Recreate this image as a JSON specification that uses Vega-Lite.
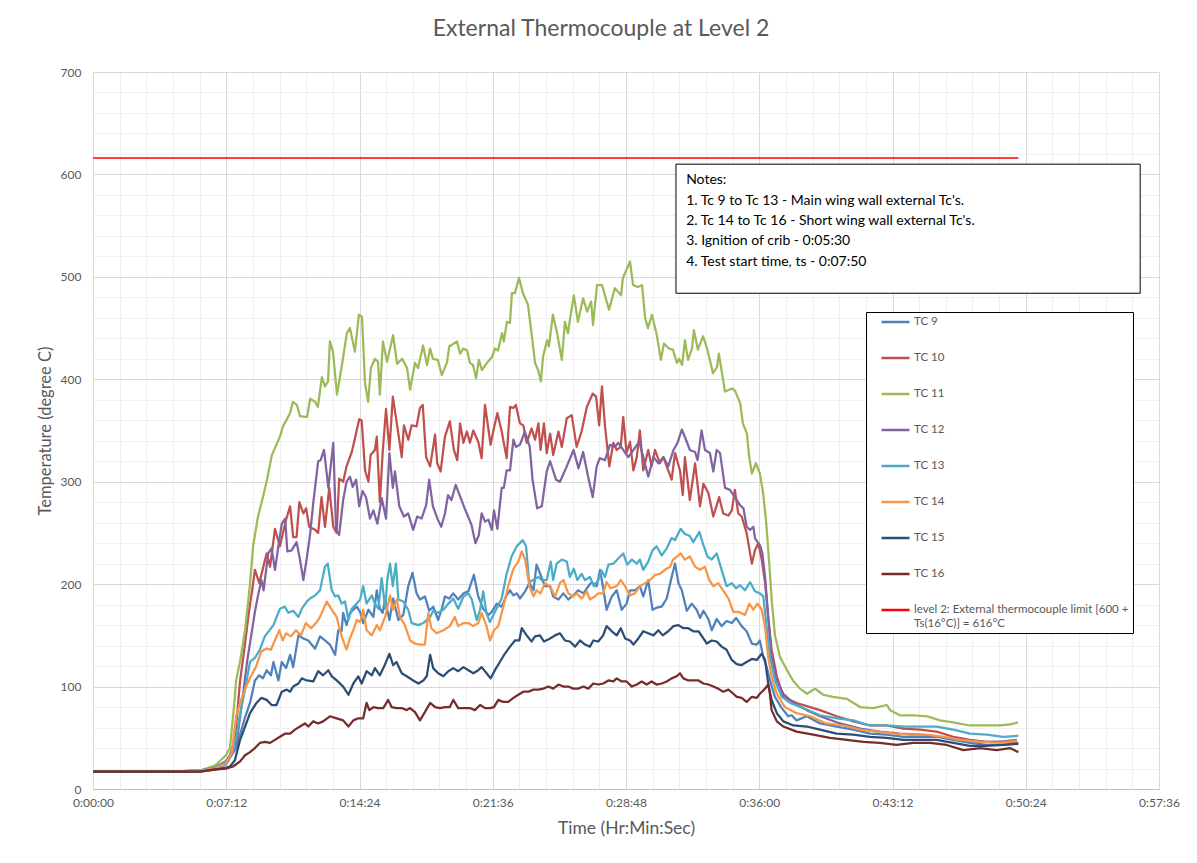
{
  "$schema": "https://vega.github.io/schema/vega-lite/v6.json",
  "width": 1066,
  "height": 717,
  "autosize": "none",
  "padding": {"left": 93, "top": 72, "right": 38, "bottom": 74},
  "background": "white",
  "title": {"text": "External Thermocouple at Level 2", "fontSize": 23, "font": "Lato", "fontWeight": "normal", "color": "#595959", "anchor": "middle", "offset": 25, "dx": -25},
  "config": {"font": "Lato", "view": {"stroke": null}},
  "resolve": {"axis": {"x": "independent", "y": "independent"}},
  "datasets": {
    "limit": [
      {"s": "level 2: External thermocouple limit [600 + Ts(16°C)] = 616°C", "t": 0, "v": 616},
      {"s": "level 2: External thermocouple limit [600 + Ts(16°C)] = 616°C", "t": 3000, "v": 616}
    ],
    "tc": [
{"s":"TC 9","t":0,"v":17},{"s":"TC 9","t":120,"v":17},{"s":"TC 9","t":240,"v":17},{"s":"TC 9","t":347,"v":18},{"s":"TC 9","t":396,"v":20},{"s":"TC 9","t":431,"v":24},{"s":"TC 9","t":464,"v":40},{"s":"TC 9","t":493,"v":70},{"s":"TC 9","t":509,"v":84},{"s":"TC 9","t":525,"v":106},{"s":"TC 9","t":539,"v":111},{"s":"TC 9","t":551,"v":108},{"s":"TC 9","t":563,"v":116},{"s":"TC 9","t":577,"v":111},{"s":"TC 9","t":585,"v":124},{"s":"TC 9","t":601,"v":106},{"s":"TC 9","t":612,"v":124},{"s":"TC 9","t":626,"v":118},{"s":"TC 9","t":639,"v":131},{"s":"TC 9","t":649,"v":119},{"s":"TC 9","t":666,"v":150},{"s":"TC 9","t":682,"v":147},{"s":"TC 9","t":698,"v":145},{"s":"TC 9","t":720,"v":137},{"s":"TC 9","t":736,"v":149},{"s":"TC 9","t":752,"v":145},{"s":"TC 9","t":768,"v":141},{"s":"TC 9","t":785,"v":131},{"s":"TC 9","t":795,"v":155},{"s":"TC 9","t":806,"v":154},{"s":"TC 9","t":811,"v":172},{"s":"TC 9","t":822,"v":160},{"s":"TC 9","t":833,"v":172},{"s":"TC 9","t":844,"v":175},{"s":"TC 9","t":855,"v":178},{"s":"TC 9","t":866,"v":173},{"s":"TC 9","t":876,"v":162},{"s":"TC 9","t":893,"v":175},{"s":"TC 9","t":909,"v":168},{"s":"TC 9","t":920,"v":194},{"s":"TC 9","t":930,"v":176},{"s":"TC 9","t":939,"v":172},{"s":"TC 9","t":947,"v":185},{"s":"TC 9","t":961,"v":165},{"s":"TC 9","t":973,"v":186},{"s":"TC 9","t":990,"v":165},{"s":"TC 9","t":1006,"v":170},{"s":"TC 9","t":1022,"v":198},{"s":"TC 9","t":1036,"v":211},{"s":"TC 9","t":1049,"v":191},{"s":"TC 9","t":1060,"v":185},{"s":"TC 9","t":1076,"v":188},{"s":"TC 9","t":1090,"v":174},{"s":"TC 9","t":1103,"v":178},{"s":"TC 9","t":1119,"v":165},{"s":"TC 9","t":1130,"v":175},{"s":"TC 9","t":1141,"v":188},{"s":"TC 9","t":1155,"v":186},{"s":"TC 9","t":1168,"v":191},{"s":"TC 9","t":1184,"v":185},{"s":"TC 9","t":1201,"v":191},{"s":"TC 9","t":1217,"v":193},{"s":"TC 9","t":1235,"v":209},{"s":"TC 9","t":1249,"v":188},{"s":"TC 9","t":1265,"v":176},{"s":"TC 9","t":1282,"v":170},{"s":"TC 9","t":1293,"v":173},{"s":"TC 9","t":1309,"v":181},{"s":"TC 9","t":1325,"v":178},{"s":"TC 9","t":1341,"v":189},{"s":"TC 9","t":1352,"v":194},{"s":"TC 9","t":1363,"v":189},{"s":"TC 9","t":1374,"v":191},{"s":"TC 9","t":1384,"v":186},{"s":"TC 9","t":1401,"v":193},{"s":"TC 9","t":1415,"v":201},{"s":"TC 9","t":1428,"v":194},{"s":"TC 9","t":1438,"v":219},{"s":"TC 9","t":1455,"v":206},{"s":"TC 9","t":1465,"v":198},{"s":"TC 9","t":1482,"v":198},{"s":"TC 9","t":1492,"v":188},{"s":"TC 9","t":1509,"v":185},{"s":"TC 9","t":1525,"v":191},{"s":"TC 9","t":1541,"v":185},{"s":"TC 9","t":1557,"v":189},{"s":"TC 9","t":1573,"v":194},{"s":"TC 9","t":1590,"v":191},{"s":"TC 9","t":1606,"v":198},{"s":"TC 9","t":1617,"v":202},{"s":"TC 9","t":1633,"v":198},{"s":"TC 9","t":1644,"v":214},{"s":"TC 9","t":1654,"v":196},{"s":"TC 9","t":1665,"v":175},{"s":"TC 9","t":1682,"v":188},{"s":"TC 9","t":1698,"v":194},{"s":"TC 9","t":1714,"v":175},{"s":"TC 9","t":1730,"v":181},{"s":"TC 9","t":1741,"v":194},{"s":"TC 9","t":1757,"v":194},{"s":"TC 9","t":1773,"v":198},{"s":"TC 9","t":1784,"v":188},{"s":"TC 9","t":1800,"v":204},{"s":"TC 9","t":1814,"v":175},{"s":"TC 9","t":1827,"v":177},{"s":"TC 9","t":1844,"v":178},{"s":"TC 9","t":1860,"v":186},{"s":"TC 9","t":1876,"v":207},{"s":"TC 9","t":1887,"v":220},{"s":"TC 9","t":1898,"v":201},{"s":"TC 9","t":1909,"v":194},{"s":"TC 9","t":1925,"v":174},{"s":"TC 9","t":1941,"v":181},{"s":"TC 9","t":1957,"v":175},{"s":"TC 9","t":1968,"v":167},{"s":"TC 9","t":1979,"v":174},{"s":"TC 9","t":1995,"v":166},{"s":"TC 9","t":2006,"v":155},{"s":"TC 9","t":2022,"v":166},{"s":"TC 9","t":2038,"v":159},{"s":"TC 9","t":2054,"v":164},{"s":"TC 9","t":2071,"v":162},{"s":"TC 9","t":2085,"v":167},{"s":"TC 9","t":2103,"v":159},{"s":"TC 9","t":2119,"v":154},{"s":"TC 9","t":2136,"v":142},{"s":"TC 9","t":2152,"v":141},{"s":"TC 9","t":2162,"v":145},{"s":"TC 9","t":2173,"v":129},{"s":"TC 9","t":2184,"v":119},{"s":"TC 9","t":2195,"v":106},{"s":"TC 9","t":2211,"v":90},{"s":"TC 9","t":2233,"v":79},{"s":"TC 9","t":2254,"v":71},{"s":"TC 9","t":2265,"v":72},{"s":"TC 9","t":2281,"v":67},{"s":"TC 9","t":2314,"v":71},{"s":"TC 9","t":2357,"v":64},{"s":"TC 9","t":2411,"v":61},{"s":"TC 9","t":2465,"v":58},{"s":"TC 9","t":2519,"v":54},{"s":"TC 9","t":2573,"v":53},{"s":"TC 9","t":2627,"v":51},{"s":"TC 9","t":2681,"v":51},{"s":"TC 9","t":2735,"v":51},{"s":"TC 9","t":2789,"v":48},{"s":"TC 9","t":2843,"v":45},{"s":"TC 9","t":2897,"v":43},{"s":"TC 9","t":2951,"v":43},{"s":"TC 9","t":3000,"v":45},
{"s":"TC 10","t":0,"v":17},{"s":"TC 10","t":120,"v":17},{"s":"TC 10","t":240,"v":17},{"s":"TC 10","t":347,"v":18},{"s":"TC 10","t":396,"v":21},{"s":"TC 10","t":431,"v":27},{"s":"TC 10","t":444,"v":33},{"s":"TC 10","t":460,"v":48},{"s":"TC 10","t":477,"v":106},{"s":"TC 10","t":493,"v":142},{"s":"TC 10","t":505,"v":172},{"s":"TC 10","t":516,"v":194},{"s":"TC 10","t":525,"v":214},{"s":"TC 10","t":539,"v":201},{"s":"TC 10","t":563,"v":230},{"s":"TC 10","t":574,"v":217},{"s":"TC 10","t":590,"v":254},{"s":"TC 10","t":606,"v":237},{"s":"TC 10","t":626,"v":263},{"s":"TC 10","t":639,"v":276},{"s":"TC 10","t":649,"v":246},{"s":"TC 10","t":660,"v":246},{"s":"TC 10","t":669,"v":280},{"s":"TC 10","t":682,"v":269},{"s":"TC 10","t":691,"v":274},{"s":"TC 10","t":701,"v":256},{"s":"TC 10","t":720,"v":253},{"s":"TC 10","t":730,"v":250},{"s":"TC 10","t":741,"v":285},{"s":"TC 10","t":752,"v":256},{"s":"TC 10","t":766,"v":294},{"s":"TC 10","t":779,"v":256},{"s":"TC 10","t":790,"v":250},{"s":"TC 10","t":798,"v":303},{"s":"TC 10","t":811,"v":300},{"s":"TC 10","t":822,"v":315},{"s":"TC 10","t":839,"v":329},{"s":"TC 10","t":849,"v":342},{"s":"TC 10","t":863,"v":361},{"s":"TC 10","t":871,"v":360},{"s":"TC 10","t":882,"v":311},{"s":"TC 10","t":893,"v":300},{"s":"TC 10","t":900,"v":326},{"s":"TC 10","t":914,"v":331},{"s":"TC 10","t":920,"v":344},{"s":"TC 10","t":930,"v":280},{"s":"TC 10","t":939,"v":328},{"s":"TC 10","t":950,"v":371},{"s":"TC 10","t":961,"v":331},{"s":"TC 10","t":972,"v":383},{"s":"TC 10","t":985,"v":357},{"s":"TC 10","t":1001,"v":324},{"s":"TC 10","t":1008,"v":355},{"s":"TC 10","t":1022,"v":341},{"s":"TC 10","t":1033,"v":355},{"s":"TC 10","t":1049,"v":354},{"s":"TC 10","t":1060,"v":372},{"s":"TC 10","t":1069,"v":375},{"s":"TC 10","t":1080,"v":324},{"s":"TC 10","t":1093,"v":315},{"s":"TC 10","t":1109,"v":346},{"s":"TC 10","t":1116,"v":318},{"s":"TC 10","t":1127,"v":310},{"s":"TC 10","t":1141,"v":344},{"s":"TC 10","t":1157,"v":359},{"s":"TC 10","t":1170,"v":331},{"s":"TC 10","t":1181,"v":321},{"s":"TC 10","t":1190,"v":357},{"s":"TC 10","t":1201,"v":338},{"s":"TC 10","t":1212,"v":349},{"s":"TC 10","t":1222,"v":338},{"s":"TC 10","t":1233,"v":350},{"s":"TC 10","t":1249,"v":339},{"s":"TC 10","t":1260,"v":323},{"s":"TC 10","t":1271,"v":375},{"s":"TC 10","t":1289,"v":336},{"s":"TC 10","t":1298,"v":350},{"s":"TC 10","t":1311,"v":367},{"s":"TC 10","t":1325,"v":349},{"s":"TC 10","t":1341,"v":323},{"s":"TC 10","t":1352,"v":373},{"s":"TC 10","t":1363,"v":372},{"s":"TC 10","t":1371,"v":375},{"s":"TC 10","t":1384,"v":357},{"s":"TC 10","t":1395,"v":355},{"s":"TC 10","t":1406,"v":338},{"s":"TC 10","t":1422,"v":352},{"s":"TC 10","t":1433,"v":341},{"s":"TC 10","t":1444,"v":357},{"s":"TC 10","t":1451,"v":331},{"s":"TC 10","t":1462,"v":357},{"s":"TC 10","t":1471,"v":328},{"s":"TC 10","t":1482,"v":347},{"s":"TC 10","t":1492,"v":326},{"s":"TC 10","t":1509,"v":349},{"s":"TC 10","t":1520,"v":334},{"s":"TC 10","t":1536,"v":362},{"s":"TC 10","t":1552,"v":365},{"s":"TC 10","t":1568,"v":334},{"s":"TC 10","t":1584,"v":349},{"s":"TC 10","t":1601,"v":373},{"s":"TC 10","t":1620,"v":386},{"s":"TC 10","t":1631,"v":383},{"s":"TC 10","t":1641,"v":355},{"s":"TC 10","t":1650,"v":393},{"s":"TC 10","t":1660,"v":354},{"s":"TC 10","t":1674,"v":315},{"s":"TC 10","t":1687,"v":338},{"s":"TC 10","t":1698,"v":331},{"s":"TC 10","t":1711,"v":334},{"s":"TC 10","t":1719,"v":363},{"s":"TC 10","t":1730,"v":328},{"s":"TC 10","t":1741,"v":339},{"s":"TC 10","t":1752,"v":311},{"s":"TC 10","t":1763,"v":324},{"s":"TC 10","t":1773,"v":350},{"s":"TC 10","t":1784,"v":311},{"s":"TC 10","t":1800,"v":331},{"s":"TC 10","t":1811,"v":315},{"s":"TC 10","t":1822,"v":331},{"s":"TC 10","t":1838,"v":318},{"s":"TC 10","t":1849,"v":324},{"s":"TC 10","t":1860,"v":315},{"s":"TC 10","t":1876,"v":302},{"s":"TC 10","t":1887,"v":328},{"s":"TC 10","t":1903,"v":311},{"s":"TC 10","t":1912,"v":287},{"s":"TC 10","t":1919,"v":324},{"s":"TC 10","t":1935,"v":282},{"s":"TC 10","t":1952,"v":318},{"s":"TC 10","t":1968,"v":276},{"s":"TC 10","t":1979,"v":298},{"s":"TC 10","t":1995,"v":289},{"s":"TC 10","t":2011,"v":266},{"s":"TC 10","t":2030,"v":285},{"s":"TC 10","t":2043,"v":269},{"s":"TC 10","t":2060,"v":267},{"s":"TC 10","t":2071,"v":272},{"s":"TC 10","t":2081,"v":292},{"s":"TC 10","t":2092,"v":269},{"s":"TC 10","t":2103,"v":266},{"s":"TC 10","t":2119,"v":250},{"s":"TC 10","t":2136,"v":220},{"s":"TC 10","t":2146,"v":233},{"s":"TC 10","t":2157,"v":240},{"s":"TC 10","t":2168,"v":224},{"s":"TC 10","t":2179,"v":201},{"s":"TC 10","t":2189,"v":168},{"s":"TC 10","t":2200,"v":136},{"s":"TC 10","t":2217,"v":110},{"s":"TC 10","t":2238,"v":90},{"s":"TC 10","t":2281,"v":84},{"s":"TC 10","t":2325,"v":80},{"s":"TC 10","t":2357,"v":77},{"s":"TC 10","t":2411,"v":71},{"s":"TC 10","t":2465,"v":66},{"s":"TC 10","t":2519,"v":62},{"s":"TC 10","t":2573,"v":62},{"s":"TC 10","t":2627,"v":59},{"s":"TC 10","t":2681,"v":58},{"s":"TC 10","t":2735,"v":56},{"s":"TC 10","t":2789,"v":51},{"s":"TC 10","t":2843,"v":48},{"s":"TC 10","t":2897,"v":46},{"s":"TC 10","t":2950,"v":46},{"s":"TC 10","t":2995,"v":46},
{"s":"TC 11","t":0,"v":17},{"s":"TC 11","t":120,"v":17},{"s":"TC 11","t":240,"v":17},{"s":"TC 11","t":347,"v":18},{"s":"TC 11","t":396,"v":23},{"s":"TC 11","t":431,"v":33},{"s":"TC 11","t":444,"v":40},{"s":"TC 11","t":457,"v":80},{"s":"TC 11","t":464,"v":106},{"s":"TC 11","t":477,"v":125},{"s":"TC 11","t":493,"v":155},{"s":"TC 11","t":509,"v":200},{"s":"TC 11","t":519,"v":237},{"s":"TC 11","t":535,"v":266},{"s":"TC 11","t":551,"v":285},{"s":"TC 11","t":564,"v":302},{"s":"TC 11","t":580,"v":326},{"s":"TC 11","t":606,"v":344},{"s":"TC 11","t":616,"v":354},{"s":"TC 11","t":639,"v":367},{"s":"TC 11","t":648,"v":378},{"s":"TC 11","t":661,"v":375},{"s":"TC 11","t":671,"v":364},{"s":"TC 11","t":694,"v":363},{"s":"TC 11","t":704,"v":381},{"s":"TC 11","t":720,"v":378},{"s":"TC 11","t":729,"v":373},{"s":"TC 11","t":742,"v":402},{"s":"TC 11","t":752,"v":393},{"s":"TC 11","t":762,"v":398},{"s":"TC 11","t":768,"v":437},{"s":"TC 11","t":778,"v":427},{"s":"TC 11","t":791,"v":385},{"s":"TC 11","t":807,"v":414},{"s":"TC 11","t":823,"v":445},{"s":"TC 11","t":833,"v":450},{"s":"TC 11","t":849,"v":427},{"s":"TC 11","t":862,"v":463},{"s":"TC 11","t":872,"v":461},{"s":"TC 11","t":882,"v":396},{"s":"TC 11","t":892,"v":378},{"s":"TC 11","t":901,"v":411},{"s":"TC 11","t":914,"v":420},{"s":"TC 11","t":924,"v":417},{"s":"TC 11","t":930,"v":385},{"s":"TC 11","t":940,"v":437},{"s":"TC 11","t":953,"v":417},{"s":"TC 11","t":973,"v":443},{"s":"TC 11","t":986,"v":415},{"s":"TC 11","t":1002,"v":420},{"s":"TC 11","t":1018,"v":411},{"s":"TC 11","t":1028,"v":390},{"s":"TC 11","t":1044,"v":416},{"s":"TC 11","t":1054,"v":411},{"s":"TC 11","t":1070,"v":433},{"s":"TC 11","t":1083,"v":414},{"s":"TC 11","t":1093,"v":430},{"s":"TC 11","t":1102,"v":420},{"s":"TC 11","t":1118,"v":419},{"s":"TC 11","t":1131,"v":404},{"s":"TC 11","t":1148,"v":417},{"s":"TC 11","t":1155,"v":432},{"s":"TC 11","t":1180,"v":437},{"s":"TC 11","t":1190,"v":425},{"s":"TC 11","t":1200,"v":430},{"s":"TC 11","t":1213,"v":428},{"s":"TC 11","t":1222,"v":416},{"s":"TC 11","t":1232,"v":414},{"s":"TC 11","t":1242,"v":401},{"s":"TC 11","t":1251,"v":419},{"s":"TC 11","t":1261,"v":409},{"s":"TC 11","t":1277,"v":416},{"s":"TC 11","t":1294,"v":422},{"s":"TC 11","t":1303,"v":430},{"s":"TC 11","t":1313,"v":428},{"s":"TC 11","t":1326,"v":445},{"s":"TC 11","t":1332,"v":437},{"s":"TC 11","t":1342,"v":456},{"s":"TC 11","t":1352,"v":455},{"s":"TC 11","t":1358,"v":484},{"s":"TC 11","t":1368,"v":484},{"s":"TC 11","t":1381,"v":499},{"s":"TC 11","t":1394,"v":484},{"s":"TC 11","t":1410,"v":473},{"s":"TC 11","t":1423,"v":442},{"s":"TC 11","t":1433,"v":416},{"s":"TC 11","t":1443,"v":409},{"s":"TC 11","t":1452,"v":398},{"s":"TC 11","t":1459,"v":422},{"s":"TC 11","t":1472,"v":438},{"s":"TC 11","t":1478,"v":432},{"s":"TC 11","t":1491,"v":463},{"s":"TC 11","t":1504,"v":446},{"s":"TC 11","t":1520,"v":419},{"s":"TC 11","t":1530,"v":456},{"s":"TC 11","t":1540,"v":445},{"s":"TC 11","t":1546,"v":458},{"s":"TC 11","t":1559,"v":482},{"s":"TC 11","t":1572,"v":456},{"s":"TC 11","t":1589,"v":479},{"s":"TC 11","t":1602,"v":466},{"s":"TC 11","t":1615,"v":476},{"s":"TC 11","t":1621,"v":453},{"s":"TC 11","t":1634,"v":492},{"s":"TC 11","t":1650,"v":492},{"s":"TC 11","t":1673,"v":468},{"s":"TC 11","t":1692,"v":489},{"s":"TC 11","t":1712,"v":482},{"s":"TC 11","t":1718,"v":499},{"s":"TC 11","t":1741,"v":515},{"s":"TC 11","t":1751,"v":492},{"s":"TC 11","t":1767,"v":490},{"s":"TC 11","t":1780,"v":492},{"s":"TC 11","t":1790,"v":460},{"s":"TC 11","t":1799,"v":450},{"s":"TC 11","t":1812,"v":463},{"s":"TC 11","t":1828,"v":443},{"s":"TC 11","t":1841,"v":419},{"s":"TC 11","t":1851,"v":435},{"s":"TC 11","t":1867,"v":430},{"s":"TC 11","t":1880,"v":429},{"s":"TC 11","t":1893,"v":416},{"s":"TC 11","t":1900,"v":420},{"s":"TC 11","t":1910,"v":414},{"s":"TC 11","t":1919,"v":438},{"s":"TC 11","t":1929,"v":419},{"s":"TC 11","t":1942,"v":430},{"s":"TC 11","t":1948,"v":448},{"s":"TC 11","t":1961,"v":429},{"s":"TC 11","t":1978,"v":442},{"s":"TC 11","t":1991,"v":430},{"s":"TC 11","t":2010,"v":406},{"s":"TC 11","t":2023,"v":412},{"s":"TC 11","t":2029,"v":425},{"s":"TC 11","t":2049,"v":388},{"s":"TC 11","t":2072,"v":391},{"s":"TC 11","t":2081,"v":389},{"s":"TC 11","t":2098,"v":377},{"s":"TC 11","t":2107,"v":357},{"s":"TC 11","t":2120,"v":347},{"s":"TC 11","t":2127,"v":325},{"s":"TC 11","t":2136,"v":308},{"s":"TC 11","t":2149,"v":318},{"s":"TC 11","t":2162,"v":308},{"s":"TC 11","t":2172,"v":290},{"s":"TC 11","t":2182,"v":262},{"s":"TC 11","t":2192,"v":222},{"s":"TC 11","t":2201,"v":182},{"s":"TC 11","t":2211,"v":150},{"s":"TC 11","t":2227,"v":129},{"s":"TC 11","t":2250,"v":116},{"s":"TC 11","t":2269,"v":106},{"s":"TC 11","t":2292,"v":98},{"s":"TC 11","t":2315,"v":93},{"s":"TC 11","t":2341,"v":98},{"s":"TC 11","t":2367,"v":92},{"s":"TC 11","t":2399,"v":90},{"s":"TC 11","t":2444,"v":88},{"s":"TC 11","t":2487,"v":80},{"s":"TC 11","t":2529,"v":79},{"s":"TC 11","t":2574,"v":82},{"s":"TC 11","t":2584,"v":77},{"s":"TC 11","t":2616,"v":72},{"s":"TC 11","t":2658,"v":72},{"s":"TC 11","t":2704,"v":71},{"s":"TC 11","t":2746,"v":67},{"s":"TC 11","t":2788,"v":65},{"s":"TC 11","t":2843,"v":62},{"s":"TC 11","t":2898,"v":62},{"s":"TC 11","t":2940,"v":62},{"s":"TC 11","t":2973,"v":63},{"s":"TC 11","t":2999,"v":65},
{"s":"TC 12","t":0,"v":17},{"s":"TC 12","t":120,"v":17},{"s":"TC 12","t":240,"v":17},{"s":"TC 12","t":347,"v":18},{"s":"TC 12","t":396,"v":21},{"s":"TC 12","t":431,"v":27},{"s":"TC 12","t":444,"v":32},{"s":"TC 12","t":467,"v":48},{"s":"TC 12","t":483,"v":84},{"s":"TC 12","t":499,"v":123},{"s":"TC 12","t":514,"v":152},{"s":"TC 12","t":525,"v":173},{"s":"TC 12","t":535,"v":189},{"s":"TC 12","t":546,"v":204},{"s":"TC 12","t":553,"v":194},{"s":"TC 12","t":568,"v":230},{"s":"TC 12","t":579,"v":235},{"s":"TC 12","t":590,"v":214},{"s":"TC 12","t":601,"v":237},{"s":"TC 12","t":612,"v":259},{"s":"TC 12","t":623,"v":264},{"s":"TC 12","t":630,"v":232},{"s":"TC 12","t":644,"v":233},{"s":"TC 12","t":660,"v":241},{"s":"TC 12","t":671,"v":224},{"s":"TC 12","t":682,"v":204},{"s":"TC 12","t":693,"v":225},{"s":"TC 12","t":704,"v":249},{"s":"TC 12","t":714,"v":279},{"s":"TC 12","t":730,"v":320},{"s":"TC 12","t":738,"v":321},{"s":"TC 12","t":749,"v":331},{"s":"TC 12","t":763,"v":294},{"s":"TC 12","t":779,"v":338},{"s":"TC 12","t":788,"v":253},{"s":"TC 12","t":798,"v":248},{"s":"TC 12","t":811,"v":282},{"s":"TC 12","t":822,"v":300},{"s":"TC 12","t":833,"v":305},{"s":"TC 12","t":842,"v":295},{"s":"TC 12","t":853,"v":302},{"s":"TC 12","t":863,"v":276},{"s":"TC 12","t":874,"v":291},{"s":"TC 12","t":885,"v":285},{"s":"TC 12","t":898,"v":264},{"s":"TC 12","t":909,"v":272},{"s":"TC 12","t":922,"v":259},{"s":"TC 12","t":936,"v":284},{"s":"TC 12","t":950,"v":264},{"s":"TC 12","t":961,"v":328},{"s":"TC 12","t":972,"v":294},{"s":"TC 12","t":979,"v":310},{"s":"TC 12","t":993,"v":276},{"s":"TC 12","t":1008,"v":266},{"s":"TC 12","t":1022,"v":269},{"s":"TC 12","t":1038,"v":253},{"s":"TC 12","t":1051,"v":266},{"s":"TC 12","t":1065,"v":264},{"s":"TC 12","t":1080,"v":277},{"s":"TC 12","t":1090,"v":302},{"s":"TC 12","t":1102,"v":276},{"s":"TC 12","t":1118,"v":263},{"s":"TC 12","t":1129,"v":256},{"s":"TC 12","t":1141,"v":269},{"s":"TC 12","t":1151,"v":287},{"s":"TC 12","t":1162,"v":282},{"s":"TC 12","t":1176,"v":297},{"s":"TC 12","t":1191,"v":285},{"s":"TC 12","t":1205,"v":274},{"s":"TC 12","t":1220,"v":263},{"s":"TC 12","t":1227,"v":258},{"s":"TC 12","t":1240,"v":240},{"s":"TC 12","t":1251,"v":248},{"s":"TC 12","t":1260,"v":269},{"s":"TC 12","t":1271,"v":261},{"s":"TC 12","t":1282,"v":263},{"s":"TC 12","t":1293,"v":253},{"s":"TC 12","t":1300,"v":272},{"s":"TC 12","t":1311,"v":254},{"s":"TC 12","t":1325,"v":294},{"s":"TC 12","t":1332,"v":294},{"s":"TC 12","t":1341,"v":311},{"s":"TC 12","t":1352,"v":311},{"s":"TC 12","t":1363,"v":341},{"s":"TC 12","t":1371,"v":334},{"s":"TC 12","t":1384,"v":336},{"s":"TC 12","t":1400,"v":349},{"s":"TC 12","t":1416,"v":334},{"s":"TC 12","t":1425,"v":302},{"s":"TC 12","t":1440,"v":274},{"s":"TC 12","t":1455,"v":276},{"s":"TC 12","t":1471,"v":310},{"s":"TC 12","t":1482,"v":320},{"s":"TC 12","t":1501,"v":302},{"s":"TC 12","t":1514,"v":300},{"s":"TC 12","t":1536,"v":315},{"s":"TC 12","t":1558,"v":331},{"s":"TC 12","t":1574,"v":313},{"s":"TC 12","t":1589,"v":329},{"s":"TC 12","t":1605,"v":305},{"s":"TC 12","t":1620,"v":285},{"s":"TC 12","t":1633,"v":315},{"s":"TC 12","t":1643,"v":323},{"s":"TC 12","t":1660,"v":321},{"s":"TC 12","t":1676,"v":336},{"s":"TC 12","t":1692,"v":334},{"s":"TC 12","t":1703,"v":338},{"s":"TC 12","t":1719,"v":331},{"s":"TC 12","t":1735,"v":324},{"s":"TC 12","t":1752,"v":331},{"s":"TC 12","t":1771,"v":339},{"s":"TC 12","t":1784,"v":324},{"s":"TC 12","t":1800,"v":305},{"s":"TC 12","t":1817,"v":324},{"s":"TC 12","t":1833,"v":318},{"s":"TC 12","t":1849,"v":324},{"s":"TC 12","t":1865,"v":315},{"s":"TC 12","t":1882,"v":331},{"s":"TC 12","t":1895,"v":338},{"s":"TC 12","t":1909,"v":351},{"s":"TC 12","t":1925,"v":339},{"s":"TC 12","t":1935,"v":331},{"s":"TC 12","t":1952,"v":329},{"s":"TC 12","t":1960,"v":321},{"s":"TC 12","t":1973,"v":350},{"s":"TC 12","t":1984,"v":331},{"s":"TC 12","t":2000,"v":328},{"s":"TC 12","t":2011,"v":310},{"s":"TC 12","t":2022,"v":331},{"s":"TC 12","t":2033,"v":328},{"s":"TC 12","t":2049,"v":294},{"s":"TC 12","t":2065,"v":292},{"s":"TC 12","t":2081,"v":285},{"s":"TC 12","t":2098,"v":277},{"s":"TC 12","t":2109,"v":274},{"s":"TC 12","t":2119,"v":256},{"s":"TC 12","t":2130,"v":253},{"s":"TC 12","t":2141,"v":256},{"s":"TC 12","t":2146,"v":245},{"s":"TC 12","t":2157,"v":240},{"s":"TC 12","t":2164,"v":237},{"s":"TC 12","t":2170,"v":230},{"s":"TC 12","t":2179,"v":207},{"s":"TC 12","t":2189,"v":168},{"s":"TC 12","t":2200,"v":129},{"s":"TC 12","t":2217,"v":106},{"s":"TC 12","t":2238,"v":93},{"s":"TC 12","t":2271,"v":84},{"s":"TC 12","t":2314,"v":77},{"s":"TC 12","t":2357,"v":71},{"s":"TC 12","t":2422,"v":64},{"s":"TC 12","t":2487,"v":59},{"s":"TC 12","t":2551,"v":56},{"s":"TC 12","t":2616,"v":54},{"s":"TC 12","t":2681,"v":53},{"s":"TC 12","t":2746,"v":51},{"s":"TC 12","t":2811,"v":48},{"s":"TC 12","t":2876,"v":46},{"s":"TC 12","t":2940,"v":46},{"s":"TC 12","t":2995,"v":48},
{"s":"TC 13","t":0,"v":17},{"s":"TC 13","t":120,"v":17},{"s":"TC 13","t":240,"v":17},{"s":"TC 13","t":347,"v":18},{"s":"TC 13","t":396,"v":21},{"s":"TC 13","t":431,"v":26},{"s":"TC 13","t":450,"v":35},{"s":"TC 13","t":464,"v":50},{"s":"TC 13","t":477,"v":74},{"s":"TC 13","t":493,"v":97},{"s":"TC 13","t":509,"v":124},{"s":"TC 13","t":525,"v":128},{"s":"TC 13","t":541,"v":136},{"s":"TC 13","t":557,"v":149},{"s":"TC 13","t":585,"v":160},{"s":"TC 13","t":606,"v":176},{"s":"TC 13","t":622,"v":178},{"s":"TC 13","t":633,"v":172},{"s":"TC 13","t":649,"v":174},{"s":"TC 13","t":666,"v":168},{"s":"TC 13","t":677,"v":176},{"s":"TC 13","t":693,"v":183},{"s":"TC 13","t":704,"v":186},{"s":"TC 13","t":720,"v":189},{"s":"TC 13","t":736,"v":194},{"s":"TC 13","t":752,"v":217},{"s":"TC 13","t":761,"v":220},{"s":"TC 13","t":774,"v":194},{"s":"TC 13","t":785,"v":188},{"s":"TC 13","t":795,"v":189},{"s":"TC 13","t":806,"v":181},{"s":"TC 13","t":817,"v":183},{"s":"TC 13","t":828,"v":165},{"s":"TC 13","t":839,"v":176},{"s":"TC 13","t":855,"v":181},{"s":"TC 13","t":866,"v":185},{"s":"TC 13","t":876,"v":198},{"s":"TC 13","t":887,"v":181},{"s":"TC 13","t":904,"v":189},{"s":"TC 13","t":914,"v":181},{"s":"TC 13","t":925,"v":176},{"s":"TC 13","t":936,"v":206},{"s":"TC 13","t":947,"v":176},{"s":"TC 13","t":954,"v":204},{"s":"TC 13","t":963,"v":220},{"s":"TC 13","t":972,"v":198},{"s":"TC 13","t":982,"v":220},{"s":"TC 13","t":990,"v":185},{"s":"TC 13","t":1006,"v":183},{"s":"TC 13","t":1022,"v":175},{"s":"TC 13","t":1033,"v":162},{"s":"TC 13","t":1055,"v":160},{"s":"TC 13","t":1071,"v":162},{"s":"TC 13","t":1093,"v":168},{"s":"TC 13","t":1103,"v":174},{"s":"TC 13","t":1119,"v":172},{"s":"TC 13","t":1136,"v":175},{"s":"TC 13","t":1152,"v":181},{"s":"TC 13","t":1168,"v":186},{"s":"TC 13","t":1184,"v":176},{"s":"TC 13","t":1201,"v":188},{"s":"TC 13","t":1217,"v":191},{"s":"TC 13","t":1228,"v":185},{"s":"TC 13","t":1244,"v":165},{"s":"TC 13","t":1255,"v":175},{"s":"TC 13","t":1265,"v":193},{"s":"TC 13","t":1276,"v":171},{"s":"TC 13","t":1287,"v":163},{"s":"TC 13","t":1303,"v":173},{"s":"TC 13","t":1325,"v":186},{"s":"TC 13","t":1341,"v":210},{"s":"TC 13","t":1357,"v":227},{"s":"TC 13","t":1374,"v":237},{"s":"TC 13","t":1393,"v":243},{"s":"TC 13","t":1404,"v":237},{"s":"TC 13","t":1414,"v":202},{"s":"TC 13","t":1427,"v":204},{"s":"TC 13","t":1444,"v":207},{"s":"TC 13","t":1455,"v":204},{"s":"TC 13","t":1471,"v":204},{"s":"TC 13","t":1484,"v":222},{"s":"TC 13","t":1492,"v":204},{"s":"TC 13","t":1503,"v":220},{"s":"TC 13","t":1520,"v":224},{"s":"TC 13","t":1536,"v":222},{"s":"TC 13","t":1546,"v":207},{"s":"TC 13","t":1559,"v":215},{"s":"TC 13","t":1570,"v":204},{"s":"TC 13","t":1584,"v":210},{"s":"TC 13","t":1595,"v":204},{"s":"TC 13","t":1611,"v":207},{"s":"TC 13","t":1624,"v":198},{"s":"TC 13","t":1638,"v":204},{"s":"TC 13","t":1649,"v":213},{"s":"TC 13","t":1660,"v":207},{"s":"TC 13","t":1671,"v":219},{"s":"TC 13","t":1687,"v":220},{"s":"TC 13","t":1703,"v":225},{"s":"TC 13","t":1719,"v":230},{"s":"TC 13","t":1732,"v":219},{"s":"TC 13","t":1747,"v":224},{"s":"TC 13","t":1763,"v":220},{"s":"TC 13","t":1773,"v":224},{"s":"TC 13","t":1784,"v":214},{"s":"TC 13","t":1800,"v":222},{"s":"TC 13","t":1814,"v":233},{"s":"TC 13","t":1827,"v":237},{"s":"TC 13","t":1844,"v":228},{"s":"TC 13","t":1860,"v":235},{"s":"TC 13","t":1876,"v":245},{"s":"TC 13","t":1887,"v":243},{"s":"TC 13","t":1905,"v":254},{"s":"TC 13","t":1919,"v":249},{"s":"TC 13","t":1935,"v":247},{"s":"TC 13","t":1946,"v":241},{"s":"TC 13","t":1966,"v":251},{"s":"TC 13","t":1979,"v":238},{"s":"TC 13","t":1992,"v":227},{"s":"TC 13","t":2006,"v":224},{"s":"TC 13","t":2022,"v":230},{"s":"TC 13","t":2038,"v":214},{"s":"TC 13","t":2054,"v":198},{"s":"TC 13","t":2071,"v":201},{"s":"TC 13","t":2085,"v":196},{"s":"TC 13","t":2098,"v":199},{"s":"TC 13","t":2114,"v":194},{"s":"TC 13","t":2130,"v":202},{"s":"TC 13","t":2146,"v":193},{"s":"TC 13","t":2162,"v":191},{"s":"TC 13","t":2173,"v":188},{"s":"TC 13","t":2184,"v":158},{"s":"TC 13","t":2195,"v":129},{"s":"TC 13","t":2211,"v":106},{"s":"TC 13","t":2233,"v":90},{"s":"TC 13","t":2260,"v":84},{"s":"TC 13","t":2303,"v":79},{"s":"TC 13","t":2357,"v":72},{"s":"TC 13","t":2411,"v":69},{"s":"TC 13","t":2465,"v":67},{"s":"TC 13","t":2519,"v":62},{"s":"TC 13","t":2573,"v":62},{"s":"TC 13","t":2627,"v":61},{"s":"TC 13","t":2681,"v":61},{"s":"TC 13","t":2735,"v":61},{"s":"TC 13","t":2789,"v":58},{"s":"TC 13","t":2843,"v":54},{"s":"TC 13","t":2897,"v":53},{"s":"TC 13","t":2951,"v":51},{"s":"TC 13","t":3000,"v":52},
{"s":"TC 14","t":0,"v":17},{"s":"TC 14","t":120,"v":17},{"s":"TC 14","t":240,"v":17},{"s":"TC 14","t":347,"v":18},{"s":"TC 14","t":396,"v":20},{"s":"TC 14","t":431,"v":25},{"s":"TC 14","t":450,"v":35},{"s":"TC 14","t":464,"v":71},{"s":"TC 14","t":480,"v":87},{"s":"TC 14","t":496,"v":100},{"s":"TC 14","t":512,"v":110},{"s":"TC 14","t":528,"v":119},{"s":"TC 14","t":545,"v":134},{"s":"TC 14","t":561,"v":137},{"s":"TC 14","t":577,"v":136},{"s":"TC 14","t":588,"v":144},{"s":"TC 14","t":604,"v":155},{"s":"TC 14","t":615,"v":145},{"s":"TC 14","t":626,"v":152},{"s":"TC 14","t":642,"v":149},{"s":"TC 14","t":658,"v":155},{"s":"TC 14","t":674,"v":150},{"s":"TC 14","t":690,"v":162},{"s":"TC 14","t":707,"v":157},{"s":"TC 14","t":723,"v":162},{"s":"TC 14","t":736,"v":168},{"s":"TC 14","t":758,"v":183},{"s":"TC 14","t":774,"v":175},{"s":"TC 14","t":790,"v":168},{"s":"TC 14","t":806,"v":149},{"s":"TC 14","t":822,"v":136},{"s":"TC 14","t":833,"v":147},{"s":"TC 14","t":844,"v":155},{"s":"TC 14","t":855,"v":165},{"s":"TC 14","t":866,"v":163},{"s":"TC 14","t":876,"v":175},{"s":"TC 14","t":887,"v":155},{"s":"TC 14","t":904,"v":150},{"s":"TC 14","t":920,"v":160},{"s":"TC 14","t":930,"v":155},{"s":"TC 14","t":947,"v":168},{"s":"TC 14","t":963,"v":189},{"s":"TC 14","t":972,"v":175},{"s":"TC 14","t":985,"v":185},{"s":"TC 14","t":995,"v":168},{"s":"TC 14","t":1011,"v":160},{"s":"TC 14","t":1028,"v":145},{"s":"TC 14","t":1044,"v":142},{"s":"TC 14","t":1060,"v":141},{"s":"TC 14","t":1076,"v":141},{"s":"TC 14","t":1087,"v":172},{"s":"TC 14","t":1097,"v":157},{"s":"TC 14","t":1114,"v":152},{"s":"TC 14","t":1136,"v":155},{"s":"TC 14","t":1157,"v":159},{"s":"TC 14","t":1173,"v":168},{"s":"TC 14","t":1184,"v":159},{"s":"TC 14","t":1201,"v":162},{"s":"TC 14","t":1217,"v":162},{"s":"TC 14","t":1233,"v":159},{"s":"TC 14","t":1249,"v":162},{"s":"TC 14","t":1260,"v":172},{"s":"TC 14","t":1276,"v":159},{"s":"TC 14","t":1287,"v":145},{"s":"TC 14","t":1300,"v":155},{"s":"TC 14","t":1314,"v":159},{"s":"TC 14","t":1330,"v":178},{"s":"TC 14","t":1346,"v":198},{"s":"TC 14","t":1363,"v":215},{"s":"TC 14","t":1379,"v":222},{"s":"TC 14","t":1390,"v":232},{"s":"TC 14","t":1401,"v":224},{"s":"TC 14","t":1415,"v":198},{"s":"TC 14","t":1428,"v":188},{"s":"TC 14","t":1438,"v":194},{"s":"TC 14","t":1451,"v":191},{"s":"TC 14","t":1465,"v":201},{"s":"TC 14","t":1482,"v":198},{"s":"TC 14","t":1498,"v":188},{"s":"TC 14","t":1514,"v":201},{"s":"TC 14","t":1525,"v":204},{"s":"TC 14","t":1541,"v":191},{"s":"TC 14","t":1557,"v":188},{"s":"TC 14","t":1568,"v":191},{"s":"TC 14","t":1584,"v":186},{"s":"TC 14","t":1601,"v":193},{"s":"TC 14","t":1611,"v":185},{"s":"TC 14","t":1627,"v":188},{"s":"TC 14","t":1638,"v":191},{"s":"TC 14","t":1654,"v":191},{"s":"TC 14","t":1665,"v":202},{"s":"TC 14","t":1678,"v":196},{"s":"TC 14","t":1698,"v":198},{"s":"TC 14","t":1711,"v":204},{"s":"TC 14","t":1725,"v":198},{"s":"TC 14","t":1741,"v":189},{"s":"TC 14","t":1757,"v":191},{"s":"TC 14","t":1773,"v":198},{"s":"TC 14","t":1790,"v":201},{"s":"TC 14","t":1806,"v":204},{"s":"TC 14","t":1822,"v":209},{"s":"TC 14","t":1838,"v":210},{"s":"TC 14","t":1854,"v":214},{"s":"TC 14","t":1871,"v":217},{"s":"TC 14","t":1881,"v":224},{"s":"TC 14","t":1894,"v":227},{"s":"TC 14","t":1905,"v":230},{"s":"TC 14","t":1919,"v":224},{"s":"TC 14","t":1935,"v":227},{"s":"TC 14","t":1952,"v":217},{"s":"TC 14","t":1968,"v":214},{"s":"TC 14","t":1984,"v":217},{"s":"TC 14","t":1998,"v":204},{"s":"TC 14","t":2011,"v":198},{"s":"TC 14","t":2027,"v":201},{"s":"TC 14","t":2043,"v":194},{"s":"TC 14","t":2060,"v":186},{"s":"TC 14","t":2076,"v":173},{"s":"TC 14","t":2092,"v":173},{"s":"TC 14","t":2114,"v":170},{"s":"TC 14","t":2128,"v":181},{"s":"TC 14","t":2141,"v":175},{"s":"TC 14","t":2154,"v":181},{"s":"TC 14","t":2168,"v":175},{"s":"TC 14","t":2179,"v":158},{"s":"TC 14","t":2189,"v":129},{"s":"TC 14","t":2200,"v":110},{"s":"TC 14","t":2217,"v":93},{"s":"TC 14","t":2243,"v":80},{"s":"TC 14","t":2281,"v":74},{"s":"TC 14","t":2325,"v":71},{"s":"TC 14","t":2378,"v":64},{"s":"TC 14","t":2433,"v":62},{"s":"TC 14","t":2487,"v":58},{"s":"TC 14","t":2541,"v":56},{"s":"TC 14","t":2595,"v":54},{"s":"TC 14","t":2649,"v":53},{"s":"TC 14","t":2703,"v":53},{"s":"TC 14","t":2757,"v":51},{"s":"TC 14","t":2811,"v":48},{"s":"TC 14","t":2876,"v":46},{"s":"TC 14","t":2940,"v":45},{"s":"TC 14","t":2995,"v":47},
{"s":"TC 15","t":0,"v":17},{"s":"TC 15","t":120,"v":17},{"s":"TC 15","t":240,"v":17},{"s":"TC 15","t":347,"v":17},{"s":"TC 15","t":396,"v":19},{"s":"TC 15","t":431,"v":21},{"s":"TC 15","t":444,"v":22},{"s":"TC 15","t":460,"v":28},{"s":"TC 15","t":477,"v":48},{"s":"TC 15","t":493,"v":61},{"s":"TC 15","t":509,"v":74},{"s":"TC 15","t":530,"v":84},{"s":"TC 15","t":546,"v":89},{"s":"TC 15","t":563,"v":87},{"s":"TC 15","t":579,"v":82},{"s":"TC 15","t":595,"v":82},{"s":"TC 15","t":612,"v":95},{"s":"TC 15","t":628,"v":97},{"s":"TC 15","t":639,"v":95},{"s":"TC 15","t":649,"v":100},{"s":"TC 15","t":666,"v":103},{"s":"TC 15","t":677,"v":108},{"s":"TC 15","t":693,"v":106},{"s":"TC 15","t":714,"v":105},{"s":"TC 15","t":730,"v":115},{"s":"TC 15","t":746,"v":111},{"s":"TC 15","t":763,"v":116},{"s":"TC 15","t":774,"v":110},{"s":"TC 15","t":790,"v":106},{"s":"TC 15","t":811,"v":100},{"s":"TC 15","t":828,"v":92},{"s":"TC 15","t":844,"v":103},{"s":"TC 15","t":860,"v":110},{"s":"TC 15","t":871,"v":103},{"s":"TC 15","t":887,"v":115},{"s":"TC 15","t":904,"v":111},{"s":"TC 15","t":914,"v":118},{"s":"TC 15","t":930,"v":111},{"s":"TC 15","t":943,"v":119},{"s":"TC 15","t":961,"v":132},{"s":"TC 15","t":973,"v":121},{"s":"TC 15","t":984,"v":124},{"s":"TC 15","t":1001,"v":113},{"s":"TC 15","t":1017,"v":110},{"s":"TC 15","t":1038,"v":106},{"s":"TC 15","t":1055,"v":103},{"s":"TC 15","t":1071,"v":106},{"s":"TC 15","t":1082,"v":110},{"s":"TC 15","t":1093,"v":131},{"s":"TC 15","t":1103,"v":118},{"s":"TC 15","t":1119,"v":113},{"s":"TC 15","t":1136,"v":110},{"s":"TC 15","t":1152,"v":115},{"s":"TC 15","t":1168,"v":118},{"s":"TC 15","t":1184,"v":115},{"s":"TC 15","t":1201,"v":119},{"s":"TC 15","t":1217,"v":116},{"s":"TC 15","t":1233,"v":113},{"s":"TC 15","t":1249,"v":116},{"s":"TC 15","t":1260,"v":119},{"s":"TC 15","t":1276,"v":113},{"s":"TC 15","t":1289,"v":108},{"s":"TC 15","t":1303,"v":116},{"s":"TC 15","t":1319,"v":124},{"s":"TC 15","t":1335,"v":132},{"s":"TC 15","t":1352,"v":139},{"s":"TC 15","t":1368,"v":145},{"s":"TC 15","t":1382,"v":145},{"s":"TC 15","t":1390,"v":157},{"s":"TC 15","t":1406,"v":150},{"s":"TC 15","t":1422,"v":144},{"s":"TC 15","t":1433,"v":149},{"s":"TC 15","t":1449,"v":150},{"s":"TC 15","t":1462,"v":144},{"s":"TC 15","t":1482,"v":147},{"s":"TC 15","t":1498,"v":150},{"s":"TC 15","t":1514,"v":152},{"s":"TC 15","t":1530,"v":145},{"s":"TC 15","t":1546,"v":144},{"s":"TC 15","t":1563,"v":139},{"s":"TC 15","t":1579,"v":145},{"s":"TC 15","t":1595,"v":141},{"s":"TC 15","t":1611,"v":139},{"s":"TC 15","t":1622,"v":145},{"s":"TC 15","t":1638,"v":144},{"s":"TC 15","t":1654,"v":150},{"s":"TC 15","t":1665,"v":159},{"s":"TC 15","t":1682,"v":154},{"s":"TC 15","t":1698,"v":150},{"s":"TC 15","t":1711,"v":157},{"s":"TC 15","t":1725,"v":147},{"s":"TC 15","t":1741,"v":145},{"s":"TC 15","t":1752,"v":141},{"s":"TC 15","t":1768,"v":147},{"s":"TC 15","t":1784,"v":154},{"s":"TC 15","t":1800,"v":152},{"s":"TC 15","t":1817,"v":150},{"s":"TC 15","t":1833,"v":155},{"s":"TC 15","t":1847,"v":150},{"s":"TC 15","t":1865,"v":154},{"s":"TC 15","t":1882,"v":159},{"s":"TC 15","t":1898,"v":160},{"s":"TC 15","t":1914,"v":157},{"s":"TC 15","t":1930,"v":157},{"s":"TC 15","t":1946,"v":154},{"s":"TC 15","t":1963,"v":154},{"s":"TC 15","t":1979,"v":147},{"s":"TC 15","t":1990,"v":142},{"s":"TC 15","t":2006,"v":145},{"s":"TC 15","t":2022,"v":144},{"s":"TC 15","t":2038,"v":139},{"s":"TC 15","t":2054,"v":136},{"s":"TC 15","t":2071,"v":126},{"s":"TC 15","t":2087,"v":122},{"s":"TC 15","t":2103,"v":121},{"s":"TC 15","t":2119,"v":124},{"s":"TC 15","t":2136,"v":127},{"s":"TC 15","t":2152,"v":126},{"s":"TC 15","t":2168,"v":132},{"s":"TC 15","t":2179,"v":126},{"s":"TC 15","t":2189,"v":103},{"s":"TC 15","t":2200,"v":87},{"s":"TC 15","t":2217,"v":74},{"s":"TC 15","t":2238,"v":66},{"s":"TC 15","t":2271,"v":62},{"s":"TC 15","t":2314,"v":61},{"s":"TC 15","t":2357,"v":58},{"s":"TC 15","t":2411,"v":54},{"s":"TC 15","t":2465,"v":53},{"s":"TC 15","t":2519,"v":51},{"s":"TC 15","t":2573,"v":50},{"s":"TC 15","t":2627,"v":48},{"s":"TC 15","t":2681,"v":48},{"s":"TC 15","t":2735,"v":48},{"s":"TC 15","t":2789,"v":45},{"s":"TC 15","t":2843,"v":42},{"s":"TC 15","t":2897,"v":42},{"s":"TC 15","t":2951,"v":43},{"s":"TC 15","t":3000,"v":44},
{"s":"TC 16","t":0,"v":17},{"s":"TC 16","t":120,"v":17},{"s":"TC 16","t":240,"v":17},{"s":"TC 16","t":347,"v":17},{"s":"TC 16","t":389,"v":19},{"s":"TC 16","t":433,"v":20},{"s":"TC 16","t":454,"v":22},{"s":"TC 16","t":477,"v":27},{"s":"TC 16","t":493,"v":33},{"s":"TC 16","t":509,"v":36},{"s":"TC 16","t":525,"v":40},{"s":"TC 16","t":541,"v":45},{"s":"TC 16","t":557,"v":46},{"s":"TC 16","t":574,"v":45},{"s":"TC 16","t":590,"v":48},{"s":"TC 16","t":606,"v":51},{"s":"TC 16","t":622,"v":54},{"s":"TC 16","t":639,"v":54},{"s":"TC 16","t":655,"v":58},{"s":"TC 16","t":671,"v":61},{"s":"TC 16","t":687,"v":64},{"s":"TC 16","t":698,"v":61},{"s":"TC 16","t":714,"v":66},{"s":"TC 16","t":730,"v":64},{"s":"TC 16","t":746,"v":66},{"s":"TC 16","t":768,"v":71},{"s":"TC 16","t":790,"v":69},{"s":"TC 16","t":811,"v":67},{"s":"TC 16","t":828,"v":61},{"s":"TC 16","t":844,"v":67},{"s":"TC 16","t":860,"v":69},{"s":"TC 16","t":876,"v":69},{"s":"TC 16","t":887,"v":84},{"s":"TC 16","t":896,"v":77},{"s":"TC 16","t":909,"v":80},{"s":"TC 16","t":925,"v":79},{"s":"TC 16","t":941,"v":79},{"s":"TC 16","t":957,"v":87},{"s":"TC 16","t":968,"v":80},{"s":"TC 16","t":985,"v":79},{"s":"TC 16","t":1001,"v":79},{"s":"TC 16","t":1017,"v":77},{"s":"TC 16","t":1028,"v":79},{"s":"TC 16","t":1044,"v":75},{"s":"TC 16","t":1060,"v":67},{"s":"TC 16","t":1076,"v":75},{"s":"TC 16","t":1093,"v":84},{"s":"TC 16","t":1109,"v":80},{"s":"TC 16","t":1125,"v":79},{"s":"TC 16","t":1141,"v":80},{"s":"TC 16","t":1157,"v":80},{"s":"TC 16","t":1168,"v":87},{"s":"TC 16","t":1184,"v":79},{"s":"TC 16","t":1222,"v":79},{"s":"TC 16","t":1238,"v":77},{"s":"TC 16","t":1255,"v":82},{"s":"TC 16","t":1271,"v":79},{"s":"TC 16","t":1287,"v":79},{"s":"TC 16","t":1300,"v":80},{"s":"TC 16","t":1314,"v":87},{"s":"TC 16","t":1330,"v":85},{"s":"TC 16","t":1346,"v":85},{"s":"TC 16","t":1363,"v":89},{"s":"TC 16","t":1379,"v":92},{"s":"TC 16","t":1395,"v":95},{"s":"TC 16","t":1411,"v":95},{"s":"TC 16","t":1428,"v":97},{"s":"TC 16","t":1444,"v":97},{"s":"TC 16","t":1460,"v":98},{"s":"TC 16","t":1476,"v":100},{"s":"TC 16","t":1492,"v":98},{"s":"TC 16","t":1509,"v":102},{"s":"TC 16","t":1525,"v":100},{"s":"TC 16","t":1541,"v":100},{"s":"TC 16","t":1557,"v":98},{"s":"TC 16","t":1573,"v":98},{"s":"TC 16","t":1590,"v":100},{"s":"TC 16","t":1606,"v":98},{"s":"TC 16","t":1622,"v":103},{"s":"TC 16","t":1638,"v":102},{"s":"TC 16","t":1654,"v":103},{"s":"TC 16","t":1671,"v":106},{"s":"TC 16","t":1687,"v":105},{"s":"TC 16","t":1698,"v":108},{"s":"TC 16","t":1714,"v":105},{"s":"TC 16","t":1730,"v":105},{"s":"TC 16","t":1747,"v":100},{"s":"TC 16","t":1763,"v":102},{"s":"TC 16","t":1779,"v":105},{"s":"TC 16","t":1795,"v":102},{"s":"TC 16","t":1811,"v":105},{"s":"TC 16","t":1827,"v":102},{"s":"TC 16","t":1844,"v":103},{"s":"TC 16","t":1860,"v":105},{"s":"TC 16","t":1876,"v":108},{"s":"TC 16","t":1892,"v":110},{"s":"TC 16","t":1903,"v":113},{"s":"TC 16","t":1914,"v":108},{"s":"TC 16","t":1930,"v":106},{"s":"TC 16","t":1946,"v":106},{"s":"TC 16","t":1963,"v":106},{"s":"TC 16","t":1979,"v":103},{"s":"TC 16","t":1995,"v":102},{"s":"TC 16","t":2011,"v":100},{"s":"TC 16","t":2027,"v":98},{"s":"TC 16","t":2043,"v":95},{"s":"TC 16","t":2060,"v":97},{"s":"TC 16","t":2076,"v":93},{"s":"TC 16","t":2087,"v":90},{"s":"TC 16","t":2103,"v":89},{"s":"TC 16","t":2119,"v":85},{"s":"TC 16","t":2136,"v":90},{"s":"TC 16","t":2152,"v":89},{"s":"TC 16","t":2162,"v":93},{"s":"TC 16","t":2179,"v":98},{"s":"TC 16","t":2189,"v":102},{"s":"TC 16","t":2195,"v":92},{"s":"TC 16","t":2200,"v":77},{"s":"TC 16","t":2217,"v":66},{"s":"TC 16","t":2238,"v":61},{"s":"TC 16","t":2281,"v":56},{"s":"TC 16","t":2335,"v":53},{"s":"TC 16","t":2389,"v":50},{"s":"TC 16","t":2444,"v":48},{"s":"TC 16","t":2498,"v":46},{"s":"TC 16","t":2551,"v":45},{"s":"TC 16","t":2605,"v":43},{"s":"TC 16","t":2659,"v":45},{"s":"TC 16","t":2714,"v":45},{"s":"TC 16","t":2768,"v":43},{"s":"TC 16","t":2822,"v":38},{"s":"TC 16","t":2876,"v":40},{"s":"TC 16","t":2930,"v":38},{"s":"TC 16","t":2973,"v":40},{"s":"TC 16","t":3000,"v":36}
    ]
  },
  "layer": [
    {
      "data": {"name": "tc"},
      "mark": {"type": "line", "strokeWidth": 2.25, "strokeJoin": "round", "clip": true},
      "encoding": {
        "x": {
          "field": "t", "type": "quantitative",
          "scale": {"domain": [0, 3456], "nice": false, "zero": false},
          "axis": {
            "orient": "bottom",
            "title": "Time (Hr:Min:Sec)",
            "titleFont": "Lato", "titleFontSize": 17.5, "titleFontWeight": "normal", "titleColor": "#595959", "titlePadding": 11,
            "values": [0, 432, 864, 1296, 1728, 2160, 2592, 3024, 3456],
            "labelExpr": "utcFormat(datum.value * 1000, '%-H:%M:%S')",
            "labelFont": "Lato", "labelFontSize": 12, "labelColor": "#595959", "labelPadding": 8, "labelOverlap": false, "labelFlush": false, "labelBound": false,
            "ticks": false,
            "domain": true, "domainColor": "#bfbfbf", "domainWidth": 1,
            "grid": true, "gridColor": "#d9d9d9", "gridWidth": 1
          }
        },
        "y": {
          "field": "v", "type": "quantitative",
          "scale": {"domain": [0, 700], "nice": false},
          "axis": {
            "orient": "left",
            "title": "Temperature (degree C)",
            "titleFont": "Lato", "titleFontSize": 16.5, "titleFontWeight": "normal", "titleColor": "#595959", "titlePadding": 7,
            "values": [0, 100, 200, 300, 400, 500, 600, 700],
            "labelFont": "Lato", "labelFontSize": 12, "labelColor": "#595959", "labelPadding": 12, "labelOverlap": false, "labelFlush": false,
            "ticks": false, "domain": false,
            "grid": true, "gridColor": "#d9d9d9", "gridWidth": 1
          }
        },
        "color": {
          "field": "s", "type": "nominal",
          "scale": {
            "domain": ["TC 9", "TC 10", "TC 11", "TC 12", "TC 13", "TC 14", "TC 15", "TC 16", "level 2: External thermocouple limit [600 + Ts(16°C)] = 616°C"],
            "range": ["#4F81BD", "#C0504D", "#9BBB59", "#8064A2", "#4BACC6", "#F79646", "#2C4D75", "#772C2A", "#FF0000"]
          },
          "legend": {
            "title": null,
            "orient": "none",
            "legendX": 773,
            "legendY": 240,
            "direction": "vertical",
            "symbolType": "stroke",
            "symbolSize": 784,
            "symbolStrokeWidth": 2.5,
            "symbolOffset": 10,
            "clipHeight": 12,
            "labelFont": "Lato",
            "labelFontSize": 11.5,
            "labelColor": "#595959",
            "labelLimit": 400,
            "labelOffset": 3,
            "rowPadding": 24,
            "padding": 4,
            "strokeColor": "#000000",
            "fillColor": "#ffffff",
            "labelExpr": "length(datum.label) > 10 ? ['level 2: External thermocouple limit [600 +', 'Ts(16°C)] = 616°C'] : datum.label"
          }
        }
      }
    },
    {
      "data": {"name": "limit"},
      "mark": {"type": "line", "strokeWidth": 1.6},
      "encoding": {
        "x": {
          "field": "t", "type": "quantitative",
          "axis": {
            "orient": "top", "title": null, "labels": false, "ticks": false, "domain": false,
            "values": [86.4, 172.8, 259.2, 345.6, 518.4, 604.8, 691.2, 777.6, 950.4, 1036.8, 1123.2, 1209.6, 1382.4, 1468.8, 1555.2, 1641.6, 1814.4, 1900.8, 1987.2, 2073.6, 2246.4, 2332.8, 2419.2, 2505.6, 2678.4, 2764.8, 2851.2, 2937.6, 3110.4, 3196.8, 3283.2, 3369.6],
            "grid": true, "gridColor": "#f0f0f0", "gridWidth": 1
          }
        },
        "y": {
          "field": "v", "type": "quantitative",
          "axis": {
            "orient": "right", "title": null, "labels": false, "ticks": false, "domain": false,
            "values": [20, 40, 60, 80, 120, 140, 160, 180, 220, 240, 260, 280, 320, 340, 360, 380, 420, 440, 460, 480, 520, 540, 560, 580, 620, 640, 660, 680],
            "grid": true, "gridColor": "#f0f0f0", "gridWidth": 1
          }
        },
        "color": {"field": "s", "type": "nominal"}
      }
    },
    {
      "data": {"values": [{}]},
      "mark": {"type": "rect", "fill": "white", "stroke": "black", "strokeWidth": 1},
      "encoding": {
        "x": {"datum": 1890, "type": "quantitative", "axis": null},
        "x2": {"datum": 3395},
        "y": {"datum": 610, "type": "quantitative", "axis": null},
        "y2": {"datum": 484}
      }
    },
    {
      "data": {"values": [{}]},
      "mark": {
        "type": "text", "align": "left", "baseline": "top", "font": "Lato", "fontSize": 14, "color": "#000000", "lineHeight": 20.3,
        "text": ["Notes:", "1. Tc 9 to Tc 13 - Main wing wall external Tc's.", "2. Tc 14 to Tc 16 - Short wing wall external Tc's.", "3. Ignition of crib - 0:05:30", "4. Test start time, ts - 0:07:50"]
      },
      "encoding": {
        "x": {"datum": 1923, "type": "quantitative", "axis": null},
        "y": {"datum": 601, "type": "quantitative", "axis": null}
      }
    }
  ]
}
